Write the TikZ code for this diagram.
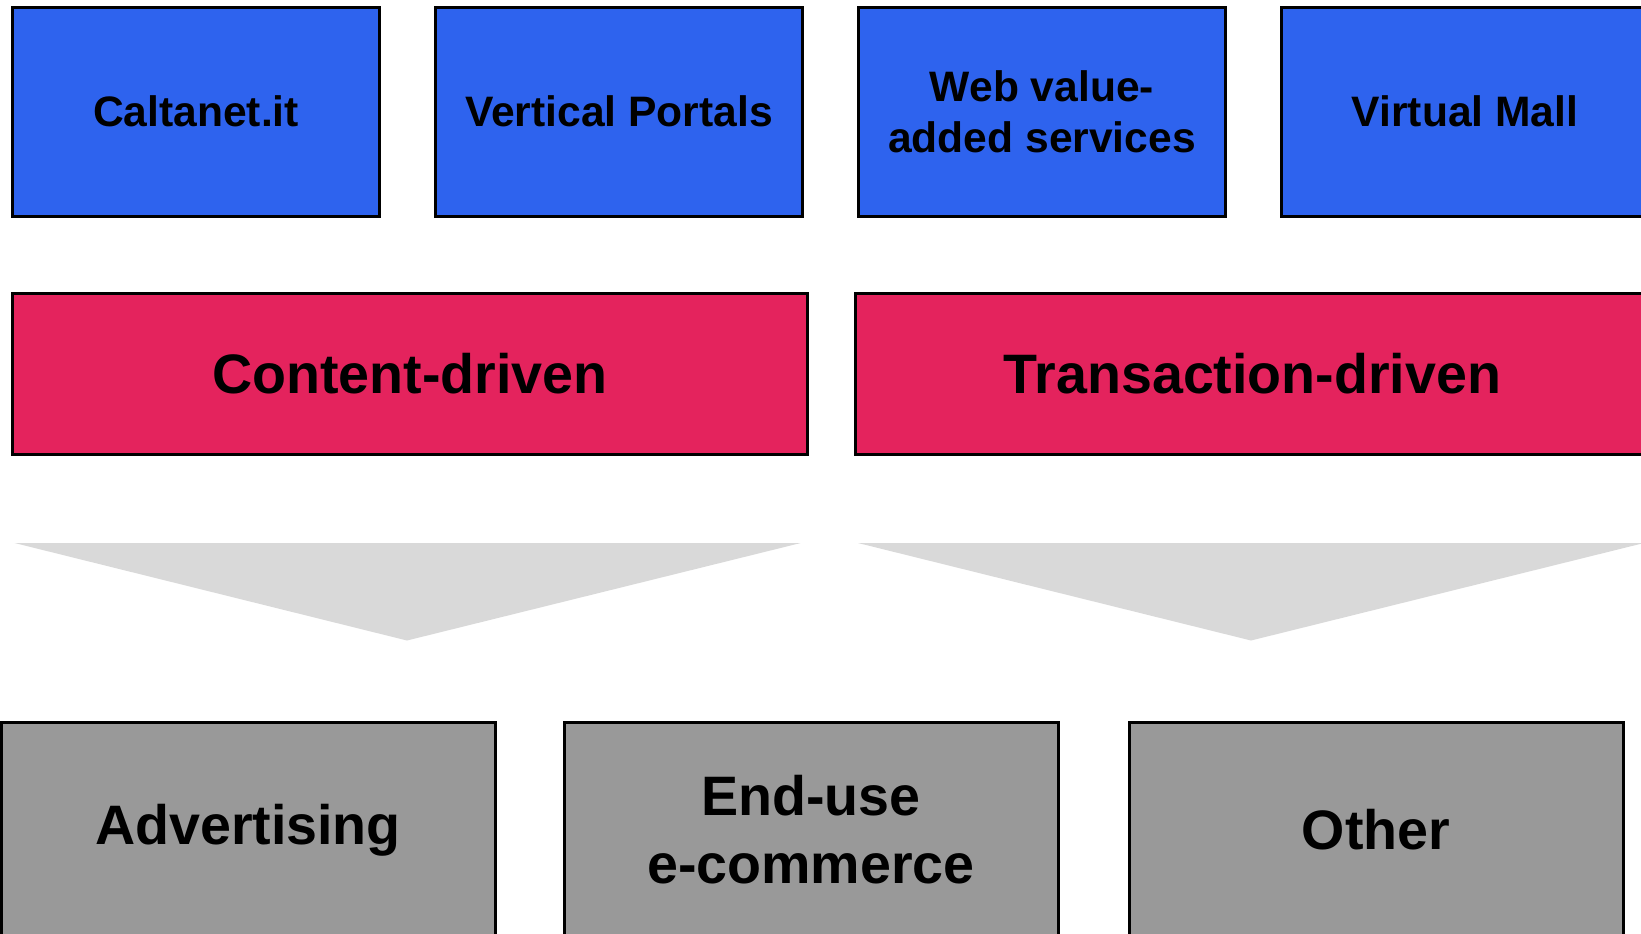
\documentclass[tikz,border=0pt]{standalone}
\usepackage{fontspec}
\setmainfont{Liberation Sans}
\definecolor{portalblue}{RGB}{46,99,238}
\definecolor{driverred}{RGB}{228,35,93}
\definecolor{revgray}{RGB}{153,153,153}
\definecolor{funnelgray}{RGB}{217,217,217}

\begin{document}
\begin{tikzpicture}[x=0.5pt,y=-0.5pt,
		box/.style={draw=black,line width=1.5pt,align=center,inner sep=0pt},
		portal/.style={box,fill=portalblue,minimum width=183.5pt,minimum height=104.5pt,
			font=\fontsize{21.3}{25.5}\selectfont\bfseries},
		driver/.style={box,fill=driverred,minimum width=397.5pt,minimum height=80.5pt,
			font=\fontsize{27.8}{33.5}\selectfont\bfseries},
		revenue/.style={box,fill=revgray,minimum width=247pt,minimum height=108pt,
			font=\fontsize{27.8}{34}\selectfont\bfseries}]
		\useasboundingbox (0,0) rectangle (1641,933);

		% funnels
		\fill[funnelgray] (14.6,543) -- (800.7,543) -- (407,640.5) -- cycle;
		\fill[funnelgray] (858,543) -- (1644,543) -- (1251,640.5) -- cycle;

		% top row
		\foreach \i/\x/\xtext in {0/196/Caltanet.it, 1/619/Vertical Portals, 2/1042/{Web value-\\added services}, 3/1465/Virtual Mall}
			\node[portal] (p\i) at (\x,111.5) {\xtext};

		% drivers
		\node[driver] (m0) at (410,373.5) {Content-driven};
		\node[driver] (m1) at (1252.5,373.5) {Transaction-driven};

		% revenues
		\node[revenue] (r0) at (248,830) {Advertising};
		\node[revenue] (r1) at (811,830) {End-use\\e-commerce};
		\node[revenue] (r2) at (1376,830) {Other};
	\end{tikzpicture}
\end{document}
